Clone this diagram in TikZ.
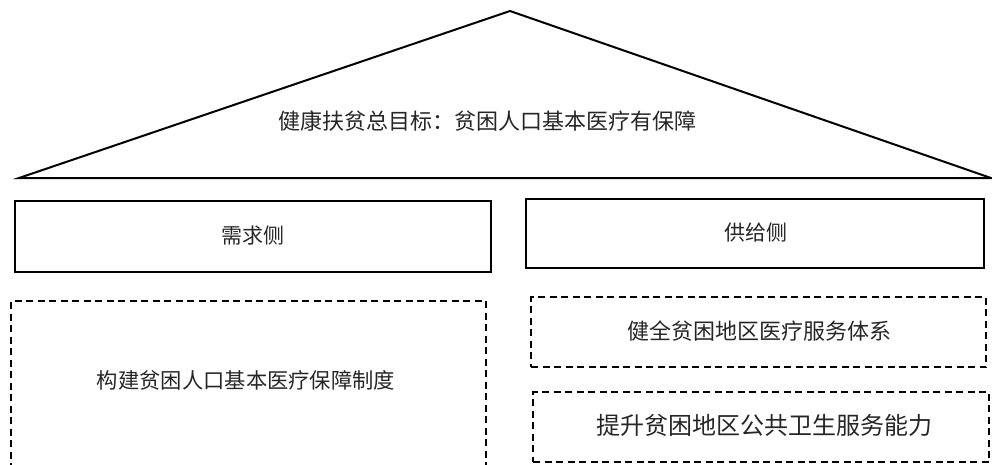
\documentclass[tikz,border=0pt]{standalone}
\usepackage{fontspec}
\newfontfamily\cjk{Noto Sans CJK SC}
\begin{document}
\begin{tikzpicture}[x=1pt,y=-1pt,
  every node/.style={font=\cjk\fontsize{21}{21}\selectfont, inner sep=0pt, outer sep=0pt},
  solidbox/.style={draw, line width=2pt},
  dashbox/.style={draw, line width=2pt, dash pattern=on 7pt off 4.5pt},
  lbl/.style={text=black!85}]
\useasboundingbox (0,0) rectangle (992,464);
% roof
\coordinate (L) at (19,178);
\coordinate (A) at (510,11);
\coordinate (R) at (991,178);
\draw[line width=2pt, line join=miter] (L) -- (A) -- (R) -- cycle;
\node[lbl, font=\cjk\fontsize{22}{22}\selectfont] (goal) at (487.5,121) {健康扶贫总目标：贫困人口基本医疗有保障};
% demand / supply boxes
\node[solidbox, minimum width=476pt, minimum height=71pt] (demand) at (253,236.5) {};
\node[lbl] (demandt) at (253,236) {需求侧};
\node[solidbox, minimum width=458pt, minimum height=69pt] (supply) at (755,233.5) {};
\node[lbl] (supplyt) at (756,233) {供给侧};
% left dashed (open bottom)
\coordinate (lb1) at (11,470);
\coordinate (lt1) at (11,301);
\coordinate (lt2) at (486,301);
\coordinate (lb2) at (486,470);
\draw[line width=2pt, dash pattern=on 7pt off 4.5pt] (lb1) -- (lt1) -- (lt2) -- (lb2);
\node[lbl, font=\cjk\fontsize{21.3}{21.3}\selectfont] (left) at (246,380) {构建贫困人口基本医疗保障制度};
% right dashed boxes
\node[dashbox, minimum width=455pt, minimum height=70pt] (r1) at (758.5,332) {};
\node[lbl, font=\cjk\fontsize{22}{22}\selectfont] (r1t) at (759.5,331) {健全贫困地区医疗服务体系};
\node[dashbox, minimum width=456pt, minimum height=70pt] (r2) at (761,427) {};
\node[lbl, font=\cjk\fontsize{24}{24}\selectfont] (r2t) at (764,425) {提升贫困地区公共卫生服务能力};
\end{tikzpicture}
\end{document}
